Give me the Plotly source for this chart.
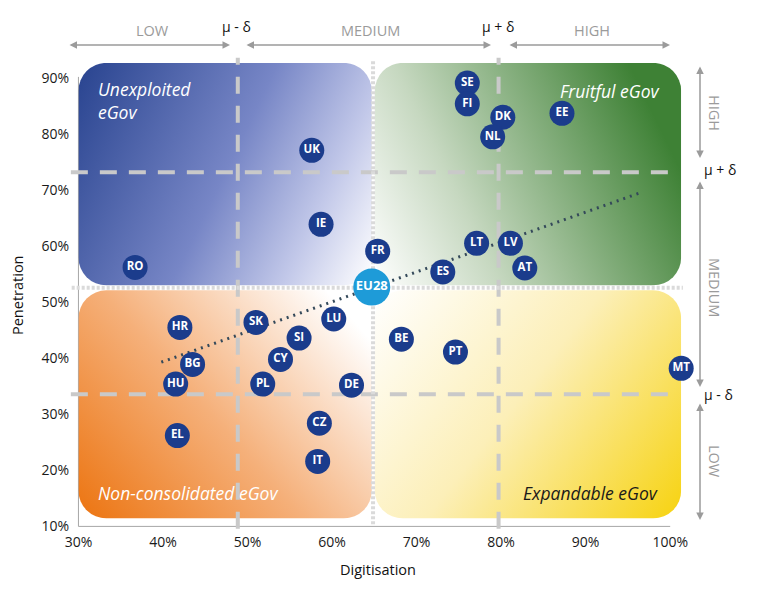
import base64
import plotly.graph_objects as go

# --- values (in %) ---
countries = ['SE', 'FI', 'DK', 'NL', 'EE', 'UK', 'IE', 'FR', 'RO', 'LT', 'LV', 'AT', 'ES',
             'HR', 'SK', 'LU', 'SI', 'CY', 'BG', 'HU', 'PL', 'DE', 'CZ', 'EL', 'IT',
             'BE', 'PT', 'MT']
digitisation = [76.0, 76.0, 80.2, 79.0, 87.2, 57.6, 58.7, 65.4, 36.7, 77.1, 81.1, 82.8, 73.1,
                42.0, 51.0, 60.2, 56.1, 53.9, 43.5, 41.5, 51.8, 62.3, 58.5, 41.7, 58.3,
                68.2, 74.6, 101.3]
penetration = [89.1, 85.4, 83.0, 79.5, 83.7, 77.1, 63.9, 59.1, 56.2, 60.5, 60.5, 56.1, 55.4,
               45.5, 46.4, 47.0, 43.6, 39.8, 38.9, 35.4, 35.4, 35.2, 28.4, 26.2, 21.6,
               43.4, 41.1, 38.2]

eu_label = ['EU28']
eu_digitisation = [64.7]
eu_penetration = [52.7]

# dotted trend line (ends)
trend_x = [39.8, 96.6]
trend_y = [39.3, 69.6]

# mean and mean +/- delta thresholds
mean_x, mean_y = 64.85, 52.6
low_x, high_x = 48.85, 79.7
low_y, high_y = 33.6, 73.2

x_ticks = [30, 40, 50, 60, 70, 80, 90, 100]
x_labels = ['30%', '40%', '50%', '60%', '70%', '80%', '90%', '100%']
y_ticks = [10, 20, 30, 40, 50, 60, 70, 80, 90]
y_labels = ['10%', '20%', '30%', '40%', '50%', '60%', '70%', '80%', '90%']

# --- page geometry (page has an 8px body margin) ---
OFF = 8
W, H = 766 - 2 * OFF, 592 - 2 * OFF
L, R, T, B = 70 - OFF, 62 - OFF, 50 - OFF, 60 - OFF
X_RANGE = [29, 104]
Y_RANGE = [9, 95]
FONT = 'Open Sans'
GREY = '#9b9b9b'
LINE_GREY = '#c9c9c9'
NAVY = '#1b3c8c'


def px(xp):
    return (xp - OFF - L) / (W - L - R)


def py(yp):
    return (H - B - (yp - OFF)) / (H - T - B)


# scale of one axis unit in pixels
sx = (W - L - R) / (X_RANGE[1] - X_RANGE[0])
sy = (H - T - B) / (Y_RANGE[1] - Y_RANGE[0])

# quadrant boxes in axis units: (x0, x1, y0, y1)
bx0, bx1, by0, by1 = 30, 101.3, 11.4, 92.7
quads = {
    'gb': (30, 64.7, 53.0, 92.7),
    'gg': (65.05, 101.3, 53.0, 92.7),
    'go': (30, 64.7, 11.4, 52.1),
    'gy': (65.05, 101.3, 11.4, 52.1),
}
# gradient vector (bounding box units) and colour stops
grads = {
    'gb': ((0, 0, 1.2, 0.44), [(0, '#28438f'), (0.5, '#7786c6'), (0.78, '#c2c8e9'), (1, '#ffffff')]),
    'gg': ((0, 1, 1.05, 0.63), [(0, '#ffffff'), (0.35, '#c6d8c0'), (1, '#3e8135')]),
    'go': ((0, 1, 1.04, 0.28), [(0, '#ec7410'), (0.5, '#f5b07a'), (1, '#ffffff')]),
    'gy': ((0, 0, 1.24, 0.72), [(0, '#ffffff'), (0.45, '#fcefb8'), (1, '#f6d000')]),
}

svg_w = (bx1 - bx0) * sx
svg_h = (by1 - by0) * sy
parts = [f'<svg xmlns="http://www.w3.org/2000/svg" width="{svg_w:.1f}" height="{svg_h:.1f}" '
         f'viewBox="0 0 {svg_w:.1f} {svg_h:.1f}" preserveAspectRatio="none"><defs>']
for gid, ((x1, y1, x2, y2), stops) in grads.items():
    parts.append(f'<linearGradient id="{gid}" x1="{x1}" y1="{y1}" x2="{x2}" y2="{y2}">')
    for off, col in stops:
        parts.append(f'<stop offset="{off}" stop-color="{col}"/>')
    parts.append('</linearGradient>')
parts.append('</defs>')
for gid, (qx0, qx1, qy0, qy1) in quads.items():
    rx = (qx0 - bx0) * sx
    ry = (by1 - qy1) * sy
    parts.append(f'<rect x="{rx:.1f}" y="{ry:.1f}" width="{(qx1 - qx0) * sx:.1f}" '
                 f'height="{(qy1 - qy0) * sy:.1f}" rx="28" ry="28" fill="url(#{gid})"/>')
parts.append('</svg>')
svg_src = 'data:image/svg+xml;base64,' + base64.b64encode(''.join(parts).encode()).decode()

fig = go.Figure()

# mean +/- delta dashed lines
dash_line = dict(color=LINE_GREY, width=4, dash='17px,12px')
for xv in (low_x, high_x):
    fig.add_trace(go.Scatter(x=[xv, xv], y=[9.6, 93.6], mode='lines', line=dash_line,
                             hoverinfo='skip', cliponaxis=False))
for yv in (low_y, high_y):
    fig.add_trace(go.Scatter(x=[29.1, 100.5], y=[yv, yv], mode='lines', line=dash_line,
                             hoverinfo='skip', cliponaxis=False))
# mean dotted lines
dot_line = dict(color='#dadada', width=4, dash='3px,2px')
fig.add_trace(go.Scatter(x=[mean_x, mean_x], y=[10.4, 93.2], mode='lines', line=dot_line,
                         hoverinfo='skip'))
fig.add_trace(go.Scatter(x=[29.2, 101.5], y=[mean_y, mean_y], mode='lines', line=dot_line,
                         hoverinfo='skip'))

fig.add_trace(go.Scatter(
    x=trend_x, y=trend_y, mode='lines', hoverinfo='skip',
    line=dict(color='#34495a', width=3, dash='2px,5px'),
))
fig.add_trace(go.Scatter(
    x=digitisation, y=penetration, mode='markers+text', text=countries,
    textposition='middle center', cliponaxis=False,
    marker=dict(size=25, color=NAVY),
    textfont=dict(family=FONT, size=11.5, color='white', weight='bold'),
))
fig.add_trace(go.Scatter(
    x=eu_digitisation, y=eu_penetration, mode='markers+text', text=eu_label,
    textposition='middle center', cliponaxis=False,
    marker=dict(size=37, color='#1e9bd8'),
    textfont=dict(family=FONT, size=13, color='white', weight='bold'),
))

shapes = [
    # axis lines
    dict(type='line', xref='x', yref='y', x0=30, x1=100, y0=10, y1=10,
         layer='below', line=dict(color='#a6a6a6', width=1)),
    dict(type='line', xref='x', yref='y', x0=30, x1=30, y0=10, y1=90.2,
         layer='below', line=dict(color='#a6a6a6', width=1)),
]

annotations = []


def arrow(hx, hy, tx, ty):
    annotations.append(dict(
        xref='paper', yref='paper', x=px(hx), y=py(hy), ax=tx - hx, ay=ty - hy,
        axref='pixel', ayref='pixel', text='', showarrow=True, arrowhead=2,
        startarrowhead=2, arrowside='end+start', arrowsize=1, arrowwidth=1.5,
        arrowcolor=GREY, standoff=0, startstandoff=0,
    ))


def label(xp, yp, text, size=14.5, color=GREY, angle=0, xanchor='center', **kw):
    annotations.append(dict(
        xref='paper', yref='paper', x=px(xp), y=py(yp), text=text, showarrow=False,
        textangle=angle, xanchor=xanchor, yanchor='middle',
        font=dict(family=FONT, size=size, color=color), **kw,
    ))


# top scale
arrow(230, 45, 68, 45)
arrow(491, 45, 245, 45)
arrow(670, 45, 508, 45)
label(152, 31, 'LOW')
label(370, 31, 'MEDIUM')
label(592, 31, 'HIGH')
label(236, 27, 'μ - δ', size=14, color='#111111')
label(498, 27, 'μ + δ', size=14, color='#111111')

# right scale
arrow(700, 158, 700, 65)
arrow(700, 387, 700, 180)
arrow(700, 520, 700, 402)
label(715, 113, 'HIGH', angle=90)
label(715, 288, 'MEDIUM', angle=90)
label(715, 462, 'LOW', angle=90)
label(720, 169, 'μ + δ', size=14, color='#111111')
label(718, 394, 'μ - δ', size=14, color='#111111')

# quadrant names
label(96, 101, 'Unexploited<br>eGov', size=17.5, color='white', xanchor='left', align='left')
label(662, 91, 'Fruitful eGov', size=17.5, color='white', xanchor='right')
label(96, 493, 'Non-consolidated eGov', size=17.5, color='white', xanchor='left')
label(660, 493, 'Expandable eGov', size=17.5, color='#1a1a1a', xanchor='right')
for a in annotations[-4:]:
    a['font']['style'] = 'italic'

# axis titles
label(378, 569, 'Digitisation', size=14.5, color='#111111')
label(17, 295, 'Penetration', size=14.5, color='#111111', angle=-90)

fig.update_layout(
    width=W, height=H,
    margin=dict(l=L, r=R, t=T, b=B),
    paper_bgcolor='white', plot_bgcolor='white',
    showlegend=False,
    font=dict(family=FONT, size=14, color='#1a1a1a'),
    shapes=shapes,
    annotations=annotations,
    images=[dict(source=svg_src, xref='x', yref='y', x=bx0, y=by1,
                 sizex=bx1 - bx0, sizey=by1 - by0, xanchor='left', yanchor='top',
                 sizing='stretch', layer='below')],
    xaxis=dict(range=X_RANGE, tickvals=x_ticks, ticktext=x_labels, showgrid=False,
               zeroline=False, showline=False, ticks='', fixedrange=True),
    yaxis=dict(range=Y_RANGE, tickvals=y_ticks, ticktext=y_labels, showgrid=False,
               zeroline=False, showline=False, ticks='', fixedrange=True),
)

fig.write_html('out.html')
